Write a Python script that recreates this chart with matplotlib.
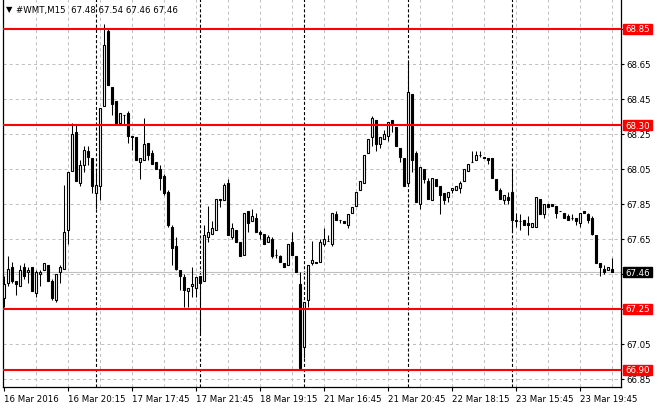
import matplotlib
matplotlib.use("Agg")
import matplotlib.pyplot as plt
from matplotlib.patches import Rectangle
import numpy as np

# =========================
# Data: #WMT M15 candles (bar 0 = 16 Mar 16:15)
# =========================
opens = [67.31, 67.40, 67.49, 67.41, 67.38, 67.49, 67.46, 67.49, 67.34, 67.45,
         67.47, 67.50, 67.41, 67.30, 67.46, 67.48, 67.70, 68.04, 68.26, 67.97,
         68.07, 68.15, 68.11, 67.91, 67.95, 68.41, 68.84, 68.52, 68.44, 68.31,
         68.36, 68.37, 68.24, 68.23, 68.09, 68.10, 68.20, 68.14, 68.09, 68.05,
         68.01, 67.92, 67.72, 67.61, 67.47, 67.43, 67.35, 67.38, 67.37, 67.44,
         67.41, 67.66, 67.68, 67.70, 67.88, 67.87, 67.97, 67.66, 67.70, 67.63,
         67.56, 67.81, 67.75, 67.77, 67.69, 67.68, 67.63, 67.65, 67.56, 67.55,
         67.51, 67.50, 67.63, 67.55, 67.39, 67.03, 67.30, 67.51, 67.52, 67.52,
         67.62, 67.64, 67.62, 67.79, 67.76, 67.75, 67.73, 67.80, 67.84, 67.93,
         67.97, 68.14, 68.23, 68.33, 68.19, 68.22, 68.24, 68.33, 68.29, 68.17,
         68.11, 67.97, 68.48, 68.14, 67.85, 68.05, 67.98, 67.87, 67.99, 67.95,
         67.91, 67.89, 67.93, 67.93, 67.94, 67.98, 68.04, 68.09, 68.10, 68.13,
         68.12, 68.11, 68.11, 67.99, 67.93, 67.87, 67.89, 67.92, 67.75, 67.75,
         67.76, 67.74, 67.72, 67.72, 67.88, 67.79, 67.85, 67.85, 67.84, 67.81,
         67.80, 67.78, 67.77, 67.77, 67.74, 67.81, 67.79, 67.77, 67.67, 67.51,
         67.48, 67.47, 67.48]
highs = [67.44, 67.55, 67.52, 67.41, 67.50, 67.51, 67.49, 67.49, 67.47, 67.47,
         67.51, 67.50, 67.42, 67.45, 67.50, 67.96, 68.03, 68.31, 68.30, 68.10,
         68.18, 68.18, 68.11, 68.04, 68.40, 68.88, 68.85, 68.52, 68.44, 68.37,
         68.36, 68.38, 68.24, 68.23, 68.11, 68.34, 68.20, 68.16, 68.09, 68.07,
         68.02, 67.93, 67.73, 67.66, 67.47, 67.45, 67.37, 67.49, 67.43, 67.44,
         67.73, 67.84, 67.75, 67.88, 67.88, 67.97, 67.99, 67.74, 67.70, 67.63,
         67.80, 67.81, 67.82, 67.80, 67.70, 67.68, 67.67, 67.66, 67.59, 67.56,
         67.51, 67.62, 67.69, 67.55, 67.46, 67.29, 67.50, 67.64, 67.52, 67.65,
         67.71, 67.67, 67.80, 67.81, 67.76, 67.75, 67.79, 67.83, 67.92, 67.98,
         68.13, 68.22, 68.35, 68.33, 68.23, 68.27, 68.32, 68.33, 68.29, 68.17,
         68.11, 68.67, 68.48, 68.15, 68.06, 68.05, 68.00, 68.00, 67.99, 67.95,
         67.91, 67.92, 67.94, 67.95, 67.98, 68.05, 68.08, 68.15, 68.15, 68.15,
         68.12, 68.11, 68.11, 67.99, 67.94, 67.90, 67.92, 68.05, 67.80, 67.79,
         67.76, 67.78, 67.74, 67.89, 67.88, 67.85, 67.85, 67.85, 67.84, 67.81,
         67.80, 67.79, 67.79, 67.77, 67.80, 67.81, 67.80, 67.78, 67.67, 67.51,
         67.50, 67.49, 67.54]
lows = [67.26, 67.38, 67.40, 67.33, 67.38, 67.42, 67.40, 67.35, 67.32, 67.38,
        67.47, 67.41, 67.30, 67.29, 67.40, 67.48, 67.62, 68.04, 67.98, 67.95,
        68.03, 68.07, 67.91, 67.82, 67.87, 68.41, 68.53, 68.36, 68.31, 68.31,
        68.30, 68.20, 68.16, 68.10, 67.99, 68.10, 68.10, 68.08, 68.05, 67.93,
        67.90, 67.72, 67.50, 67.47, 67.36, 67.26, 67.26, 67.32, 67.32, 67.11,
        67.41, 67.63, 67.68, 67.70, 67.83, 67.87, 67.67, 67.65, 67.63, 67.55,
        67.56, 67.69, 67.75, 67.69, 67.65, 67.62, 67.63, 67.54, 67.54, 67.52,
        67.49, 67.50, 67.56, 67.46, 66.90, 66.97, 67.26, 67.50, 67.51, 67.52,
        67.61, 67.64, 67.61, 67.76, 67.74, 67.74, 67.71, 67.80, 67.84, 67.93,
        67.97, 68.14, 68.18, 68.15, 68.17, 68.22, 68.21, 68.26, 68.18, 68.09,
        67.95, 67.97, 68.03, 67.86, 67.82, 67.97, 67.88, 67.87, 67.95, 67.79,
        67.85, 67.86, 67.91, 67.93, 67.91, 67.98, 68.04, 68.09, 68.10, 68.12,
        68.11, 68.08, 68.00, 67.93, 67.88, 67.85, 67.85, 67.69, 67.72, 67.70,
        67.73, 67.67, 67.72, 67.72, 67.79, 67.77, 67.83, 67.84, 67.77, 67.81,
        67.77, 67.76, 67.76, 67.73, 67.72, 67.80, 67.74, 67.67, 67.51, 67.44,
        67.45, 67.47, 67.46]
closes = [67.39, 67.48, 67.41, 67.39, 67.47, 67.44, 67.47, 67.35, 67.46, 67.46,
          67.51, 67.41, 67.31, 67.45, 67.49, 67.69, 68.03, 68.25, 67.98, 68.07,
          68.16, 68.12, 67.95, 67.96, 68.40, 68.76, 68.53, 68.42, 68.31, 68.37,
          68.36, 68.24, 68.23, 68.10, 68.11, 68.19, 68.13, 68.08, 68.05, 68.00,
          67.91, 67.73, 67.60, 67.48, 67.44, 67.36, 67.37, 67.39, 67.43, 67.40,
          67.67, 67.69, 67.71, 67.88, 67.87, 67.96, 67.67, 67.71, 67.63, 67.55,
          67.80, 67.74, 67.78, 67.69, 67.68, 67.62, 67.66, 67.55, 67.56, 67.52,
          67.49, 67.62, 67.56, 67.46, 66.91, 67.29, 67.50, 67.53, 67.51, 67.63,
          67.65, 67.64, 67.80, 67.76, 67.76, 67.74, 67.79, 67.83, 67.92, 67.98,
          68.13, 68.22, 68.34, 68.19, 68.23, 68.25, 68.32, 68.31, 68.18, 68.12,
          67.95, 68.49, 68.10, 67.86, 68.06, 67.99, 67.88, 68.00, 67.95, 67.90,
          67.87, 67.92, 67.94, 67.95, 67.97, 68.05, 68.08, 68.09, 68.13, 68.13,
          68.11, 68.10, 68.00, 67.93, 67.88, 67.90, 67.87, 67.76, 67.76, 67.75,
          67.73, 67.73, 67.74, 67.89, 67.79, 67.85, 67.83, 67.84, 67.80, 67.81,
          67.77, 67.76, 67.77, 67.75, 67.80, 67.80, 67.76, 67.68, 67.51, 67.49,
          67.46, 67.49, 67.46]

level_lines = [68.85, 68.30, 67.25, 66.90]
last_price = 67.46
price_ticks = [66.85, 67.05, 67.25, 67.45, 67.65, 67.85, 68.05, 68.25, 68.45, 68.65, 68.85]
label_bars = [0, 16, 32, 48, 64, 80, 96, 112, 128, 144]
time_labels = ["16 Mar 2016", "16 Mar 20:15", "17 Mar 17:45", "17 Mar 21:45",
               "18 Mar 19:15", "21 Mar 16:45", "21 Mar 20:45", "22 Mar 18:15",
               "23 Mar 15:45", "23 Mar 19:45"]
day_starts = [23, 49, 75, 101, 127]
title = "#WMT,M15  67.48 67.54 67.46 67.46"

# =========================
# Figure
# =========================
plt.rcParams['font.family'] = ['DejaVu Sans']
plt.rcParams['lines.scale_dashes'] = False

W, H = 660, 410
left_px, right_px, bottom_px = 2.5, 620.5, 388
fig = plt.figure(figsize=(W / 100, H / 100), dpi=100)
ax = fig.add_axes([left_px / W, 1 - bottom_px / H, (right_px - left_px) / W, bottom_px / H])

o = np.array(opens)
h = np.array(highs)
l = np.array(lows)
c = np.array(closes)
idx = np.arange(len(o))

# pixel scale of the MT4 window: 4 px per bar, 174.87 px per dollar
ax.set_xlim((left_px - 3.7) / 4, (right_px - 3.7) / 4)
ax.set_ylim(68.85 - (bottom_px - 30) / 174.87, 68.85 + 30 / 174.87)

# grid
for p in price_ticks:
    ax.axhline(p, color='#c0c0c0', lw=0.72, ls=(0, (2.2, 2.2)), zorder=1)
for b in range(8, len(o), 8):
    ax.axvline(b, color='#c0c0c0', lw=0.72, ls=(0, (2.2, 2.2)), zorder=1)
for b in day_starts:
    ax.axvline(b, color='black', lw=0.8, ls=(0, (2.2, 1.5)), zorder=2)
ax.axhline(last_price, color='#c0c0c0', lw=0.8, zorder=2)

# candles
up = c >= o
ax.vlines(idx, l, h, color='black', lw=0.75, zorder=3)
ax.bar(idx[up], (c - o)[up], bottom=o[up], width=0.55, color='white',
       edgecolor='black', lw=0.8, zorder=4)
ax.bar(idx[~up], (o - c)[~up], bottom=c[~up], width=0.55, color='black',
       edgecolor='black', lw=0.8, zorder=4)

# horizontal levels
for p in level_lines:
    ax.axhline(p, color='#ff0000', lw=1.5, zorder=5)

# axes look
for s in ['left', 'right', 'bottom']:
    ax.spines[s].set_color('black')
    ax.spines[s].set_linewidth(0.9)
ax.spines['top'].set_visible(False)

ax.yaxis.tick_right()
ax.set_yticks(price_ticks)
hidden = level_lines + [last_price]
ax.set_yticklabels(["" if min(abs(p - q) for q in hidden) < 0.03 else f"{p:.2f}"
                    for p in price_ticks])
ax.tick_params(axis='y', length=2, width=0.8, pad=2.2, labelsize=6.2, colors='black')

ax.set_xticks(label_bars)
ax.set_xticklabels(time_labels)
for lbl in ax.get_xticklabels():
    lbl.set_horizontalalignment('left')
ax.tick_params(axis='x', length=3, width=0.8, pad=2, labelsize=6.2)

# price boxes on the right scale
box_h = 9.5 / 174.87
ytrans = ax.get_yaxis_transform()
axw = right_px - left_px
for p, col in [(q, '#ff0000') for q in level_lines] + [(last_price, 'black')]:
    ax.add_patch(Rectangle((1 + 2 / axw, p - box_h / 2), 29.5 / axw, box_h,
                           transform=ytrans, color=col, clip_on=False, zorder=6))
    ax.text(1 + 5 / axw, p, f"{p:.2f}", transform=ytrans, color='white',
            fontsize=6.2, va='center', ha='left', zorder=7, clip_on=False)

# title
fig.text(6 / W, 1 - 10 / H, "\u25bc", fontsize=6, va='center', ha='left')
fig.text(16.5 / W, 1 - 10 / H, title, fontsize=6.2, va='center', ha='left')

plt.savefig("out.png", dpi=100)
